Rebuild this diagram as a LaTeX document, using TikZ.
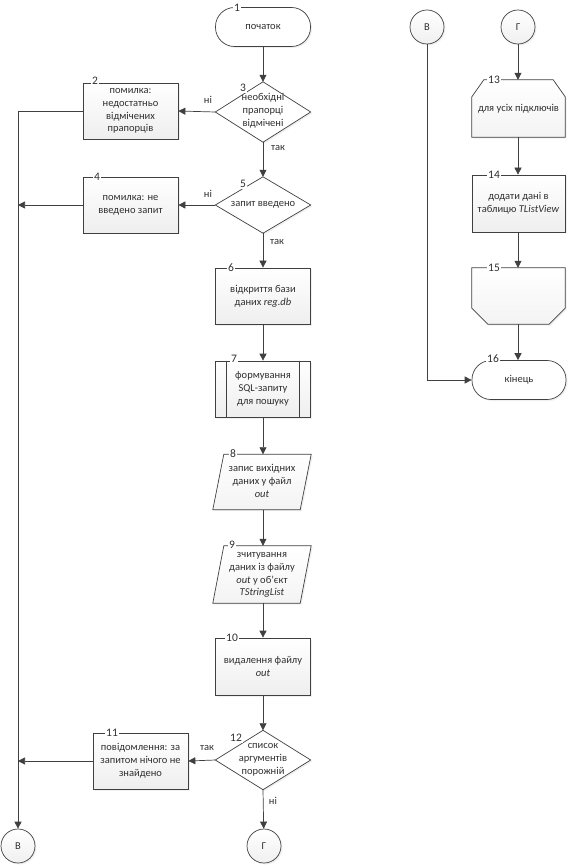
\documentclass[tikz,border=0pt]{standalone}
\usepackage{fontspec}
\setmainfont{Carlito}
\usetikzlibrary{arrows.meta,shadows,calc}
\definecolor{ln}{HTML}{404040}
\definecolor{tx}{HTML}{303030}
\begin{document}
\begin{tikzpicture}[x=1pt,y=-1pt,
  every node/.style={font=\fontsize{10.5}{12.8}\selectfont, text=tx},
  shad/.style={drop shadow={opacity=0.12, shadow xshift=1.5pt, shadow yshift=-1.5pt}},
  box/.style={draw=ln, line width=0.7pt, top color=white, bottom color=gray!13, shad,
    minimum width=95, minimum height=56, inner sep=0, align=center},
  term/.style={draw=ln, line width=0.7pt, fill=white, shad, rounded corners=19pt,
    minimum width=95, minimum height=39, inner sep=0, align=center},
  ghost/.style={minimum width=95, minimum height=56, inner sep=0, align=center},
  shapeline/.style={draw=ln, line width=0.7pt, top color=white, bottom color=gray!9, shad},
  dshape/.style={draw=ln, line width=0.7pt, fill=white, shad},
  conn/.style={circle, draw=ln, line width=0.7pt, top color=white, bottom color=gray!12, shad,
    minimum size=34, inner sep=0},
  numl/.style={fill=white, inner sep=1pt, font=\fontsize{11.5}{13}\selectfont},
  cond/.style={inner sep=1pt},
  arr/.style={draw=ln, line width=0.7pt, -{Triangle[length=7pt,width=7pt]}},
  ln/.style={draw=ln, line width=0.7pt}
]
\useasboundingbox (0,0) rectangle (568,866);

% ---------- main column ----------
\node[term] (n1) at (263,27) {початок};
\node[numl] (l1) at (237,8) {1};

\node[ghost, minimum height=60] (n3) at (263,112) {};
\path[dshape] (n3.north) -- (n3.east) -- (n3.south) -- (n3.west) -- cycle;
\node[align=center] (t3) at (263,111) {необхідні\\прапорці\\відмічені};
\node[numl] (l3) at (243,88) {3};

\node[box] (n2) at (130.5,111) {помилка:\\недостатньо\\відмічених\\прапорців};
\node[numl] (l2) at (95,81) {2};

\node[ghost, minimum height=56] (n5) at (263,205) {};
\path[dshape] (n5.north) -- (n5.east) -- (n5.south) -- (n5.west) -- cycle;
\node (t5) at (263,205) {запит введено};
\node[numl] (l5) at (243,184) {5};

\node[box] (n4) at (130.5,205) {помилка: не\\введено запит};
\node[numl] (l4) at (97,177) {4};

\node[box] (n6) at (263,296) {відкриття бази\\даних \textit{reg.db}};
\node[numl] (l6) at (231,268) {6};

\node[box] (n7) at (263,389) {формування\\SQL-запиту\\для пошуку};
\draw[ln] ($(n7.north west)+(11.5,0)$) -- ($(n7.south west)+(11.5,0)$);
\draw[ln] ($(n7.north east)+(-11.5,0)$) -- ($(n7.south east)+(-11.5,0)$);
\node[numl] (l7) at (234,359) {7};

\node[ghost, minimum width=98, minimum height=55] (n8) at (262,482) {};
\path[shapeline] (n8.south west) -- ($(n8.north west)+(11,0)$) -- (n8.north east) -- ($(n8.south east)+(-11,0)$) -- cycle;
\node[align=center] (t8) at (262,481) {запис вихідних\\даних у файл\\\textit{out}};
\node[numl] (l8) at (233,454) {8};

\node[ghost, minimum width=98, minimum height=57] (n9) at (262,574.5) {};
\path[shapeline] (n9.south west) -- ($(n9.north west)+(11,0)$) -- (n9.north east) -- ($(n9.south east)+(-11,0)$) -- cycle;
\node[align=center] (t9) at (262,575) {зчитування\\даних із файлу\\\textit{out} у об’єкт\\\textit{TStringList}};
\node[numl] (l9) at (232,545) {9};

\node[box, minimum height=57] (n10) at (263,666.5) {видалення файлу\\\textit{out}};
\node[numl] (l10) at (232,638) {10};

\node[ghost, minimum height=59] (n12) at (263,760) {};
\path[dshape] (n12.north) -- (n12.east) -- (n12.south) -- (n12.west) -- cycle;
\node[align=center] (t12) at (263,760) {список\\аргументів\\порожній};
\node[numl] (l12) at (236,738) {12};

\node[box] (n11) at (140.5,761) {повідомлення: за\\запитом нічого не\\знайдено};
\node[numl] (l11) at (112,733) {11};

\node[conn] (cb1) at (18,846) {В};
\node[conn] (cg1) at (264,846) {Г};

% ---------- right column ----------
\node[conn] (cb2) at (427,27) {В};
\node[conn] (cg2) at (518,27) {Г};

\node[ghost, minimum width=93, minimum height=57] (n13) at (518.5,108.5) {};
\path[shapeline] (n13.south west) -- ($(n13.north west)+(0,17)$) -- ($(n13.north west)+(12,0)$) -- ($(n13.north east)+(-12,0)$) -- ($(n13.north east)+(0,17)$) -- (n13.south east) -- cycle;
\node (t13) at (518.5,109) {для усіх підключів};
\node[numl] (l13) at (494,80) {13};

\node[box, minimum width=93, minimum height=57] (n14) at (518.5,203.5) {додати дані в\\таблицю \textit{TListView}};
\node[numl] (l14) at (494,175) {14};

\node[ghost, minimum width=93, minimum height=56] (n15) at (518.5,296) {};
\path[shapeline] (n15.north west) -- (n15.north east) -- ($(n15.south east)+(0,-16)$) -- ($(n15.south east)+(-16,0)$) -- ($(n15.south west)+(16,0)$) -- ($(n15.south west)+(0,-16)$) -- cycle;
\node[numl] (l15) at (494,268) {15};

\node[term, minimum width=94] (n16) at (519,380) {кінець};
\node[numl] (l16) at (493,359) {16};

% ---------- connectors ----------
\draw[arr] (n1) -- (n3.north);
\draw[arr] (n3.west) -- (n2.east);
\draw[arr] (n3.south) -- (n5.north);
\draw[arr] (n5.west) -- (n4.east);
\draw[arr] (n5.south) -- (n6.north);
\draw[arr] (n6) -- (n7);
\draw[arr] (n7) -- (n8.north -| n7.south);
\draw[arr] (n8.south -| n7.south) -- (n9.north -| n7.south);
\draw[arr] (n9.south -| n7.south) -- (n10);
\draw[arr] (n10) -- (n12.north);
\draw[arr] (n12.west) -- (n11.east);
\draw[arr] (n12.south) -- (cg1);
\draw[arr] (n2.west) -| (cb1.north);
\draw[arr] (n4.west) -- (n4.west -| cb1.north);
\draw[arr] (n11.west) -- (n11.west -| cb1.north);

\node[cond] (c1) at (208,100) {ні};
\node[cond] (c2) at (278,148) {так};
\node[cond] (c3) at (208,194) {ні};
\node[cond] (c4) at (277,242) {так};
\node[cond] (c5) at (207,748) {так};
\node[cond] (c6) at (273,801) {ні};

\draw[arr] (cg2) -- (n13.north -| cg2.south);
\draw[arr] (n13.south -| cg2.south) -- (n14.north -| cg2.south);
\draw[arr] (n14.south -| cg2.south) -- (n15.north -| cg2.south);
\draw[arr] (n15.south -| cg2.south) -- (n16.north -| cg2.south);
\draw[arr] (cb2.south) |- (n16.west);
\end{tikzpicture}
\end{document}
